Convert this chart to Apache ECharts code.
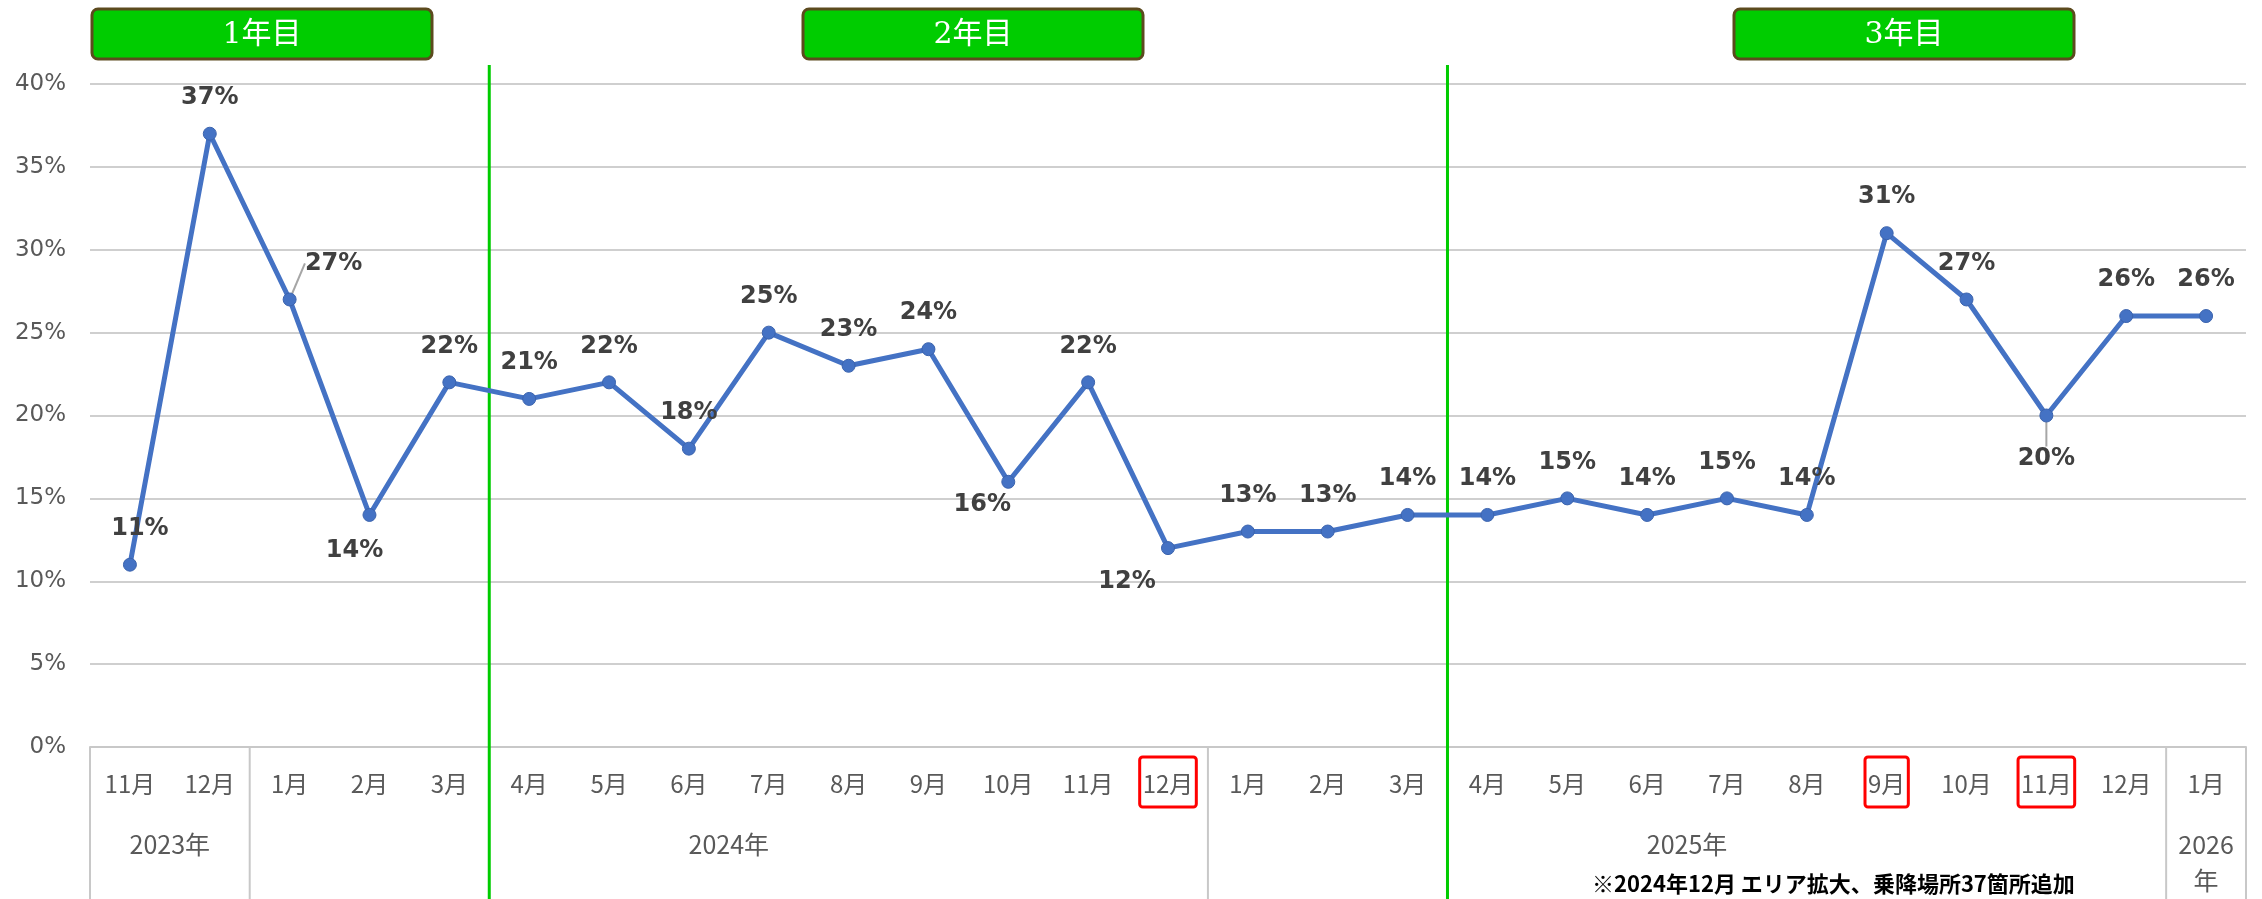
<!DOCTYPE html>
<html><head><meta charset="utf-8">
<script src="https://cdn.jsdelivr.net/npm/echarts@6/dist/echarts.min.js"></script>
<style>html,body{margin:0;padding:0;background:#fff}#c{width:2262px;height:899px}</style>
</head><body><div id="c"></div>
<script>
// ---- data ----
const months = ['11月','12月','1月','2月','3月','4月','5月','6月','7月','8月','9月','10月','11月','12月',
                '1月','2月','3月','4月','5月','6月','7月','8月','9月','10月','11月','12月','1月'];
const years = ['2023年','2023年',
  '2024年','2024年','2024年','2024年','2024年','2024年','2024年','2024年','2024年','2024年','2024年','2024年',
  '2025年','2025年','2025年','2025年','2025年','2025年','2025年','2025年','2025年','2025年','2025年','2025年',
  '2026年'];
const values = [11,37,27,14,22,21,22,18,25,23,24,16,22,12,13,13,14,14,15,14,15,14,31,27,20,26,26];
const highlightedMonths = [13,22,24];
const phaseNames = ['1年目','2年目','3年目'];
const phaseStartIdx = [5,17];
const yMin = 0, yMax = 40, yStep = 5;
const note = '※2024年12月 エリア拡大、乗降場所37箇所追加';

// ---- styling ----
const LABEL_FONT = 'DejaVu Sans';
const JP = '"Noto Sans CJK JP", sans-serif';
const labelTweaks = {          // [position, dx, dy, guideLine]
  0:  ['top', 10, 0, false],
  2:  ['top', 44, 0, true],
  3:  ['bottom', -15, 0, false],
  11: ['bottom', -26, -13, false],
  13: ['bottom', -41, -2, false],
  24: ['bottom', 0, 7, true]
};

const chart = echarts.init(document.getElementById('c'), null, {renderer:'canvas'});

const seriesData = values.map((v, i) => {
  const t = labelTweaks[i];
  const item = {value: v};
  if (t) {
    item.label = {position: t[0]};
    if (t[3]) item.labelLine = {show: true, lineStyle: {color: '#a6a6a6', width: 2}};
  }
  return item;
});

const option = {
  animation: false,
  grid: {left: 90, right: 16, top: 84, bottom: 152, containLabel: false, outerBoundsMode: 'none'},
  xAxis: {
    type: 'category', data: months, boundaryGap: true,
    axisLine: {show: true, lineStyle: {color: '#c8c8c8', width: 2}},
    axisTick: {show: false},
    axisLabel: {
      interval: 0, margin: 10,
      formatter: (val, idx) => highlightedMonths.includes(idx) ? '{hl|' + val + '}' : '{n|' + val + '}',
      rich: {
        n:  {fontSize: 24, fontFamily: JP, color: '#595959', padding: [15, 3, 11, 3], borderWidth: 3, borderColor: 'rgba(0,0,0,0)'},
        hl: {fontSize: 24, fontFamily: JP, color: '#595959', padding: [15, 3, 11, 3], borderWidth: 3, borderColor: '#ff0000', borderRadius: 3}
      }
    },
    splitLine: {show: false}
  },
  yAxis: {
    type: 'value', min: yMin, max: yMax, interval: yStep,
    axisLine: {show: false}, axisTick: {show: false},
    axisLabel: {formatter: '{value}%', fontSize: 23, color: '#595959', margin: 24, fontFamily: LABEL_FONT},
    splitLine: {lineStyle: {color: '#cfcfcf', width: 2}}
  },
  series: [{
    type: 'line', data: seriesData, z: 5,
    symbol: 'circle', symbolSize: 13,
    lineStyle: {color: '#4472c4', width: 5},
    itemStyle: {color: '#4472c4', borderColor: '#3b63ad', borderWidth: 1},
    label: {
      show: true, position: 'top', distance: 17,
      formatter: p => p.value + '%',
      fontFamily: LABEL_FONT, fontWeight: 'bold', fontSize: 24, color: '#404040'
    },
    labelLayout: p => {
      const t = labelTweaks[p.dataIndex];
      return t ? {dx: t[1], dy: t[2]} : {};
    }
  }]
};
chart.setOption(option);

// ---- annotations placed through the axes' own scales ----
const cx = i => chart.convertToPixel({xAxisIndex: 0}, i);
const half = (cx(1) - cx(0)) / 2;
const bx = b => b < months.length ? cx(b) - half : cx(months.length - 1) + half;
const y0 = chart.convertToPixel({yAxisIndex: 0}, yMin);

const g = [];
const groups = [];
years.forEach((y, i) => {
  if (!groups.length || groups[groups.length - 1].y !== y) groups.push({y, s: i, n: 1});
  else groups[groups.length - 1].n++;
});
const sepLines = new Set([0]);
groups.forEach(gr => { sepLines.add(gr.s); sepLines.add(gr.s + gr.n); });
sepLines.forEach(b => {
  g.push({type: 'line', z: 1, shape: {x1: bx(b), y1: y0, x2: bx(b), y2: 899},
          style: {stroke: '#c8c8c8', lineWidth: 2}});
});
groups.forEach(gr => {
  const mid = (bx(gr.s) + bx(gr.s + gr.n)) / 2;
  const txt = gr.n === 1 ? gr.y.replace('年', '\n年') : gr.y;
  g.push({type: 'text', z: 3, x: mid, y: y0 + 79,
          style: {text: txt, fill: '#595959', font: '25px ' + JP, align: 'center', verticalAlign: 'top', lineHeight: 36}});
});
phaseStartIdx.forEach(b => {
  g.push({type: 'line', z: 2, shape: {x1: bx(b), y1: 65, x2: bx(b), y2: 899},
          style: {stroke: '#00cc00', lineWidth: 3}});
});
const boxCenters = [262, 973, 1904];
phaseNames.forEach((name, k) => {
  g.push({type: 'group', z: 10, x: boxCenters[k] - 170, y: 9, children: [
    {type: 'rect', shape: {x: 0, y: 0, width: 340, height: 50, r: 6},
     style: {fill: '#00cc00', stroke: '#5c4a1e', lineWidth: 3}},
    {type: 'text', x: 170, y: 26,
     style: {text: name, fill: '#ffffff', font: '30px "DejaVu Serif", "Noto Sans CJK JP"', align: 'center', verticalAlign: 'middle'}}
  ]});
});
g.push({type: 'text', z: 10, x: 1592, y: 884,
        style: {text: note, fill: '#000000', font: 'bold 22px ' + JP, align: 'left', verticalAlign: 'middle'}});

chart.setOption({graphic: g});
</script>
</body></html>
